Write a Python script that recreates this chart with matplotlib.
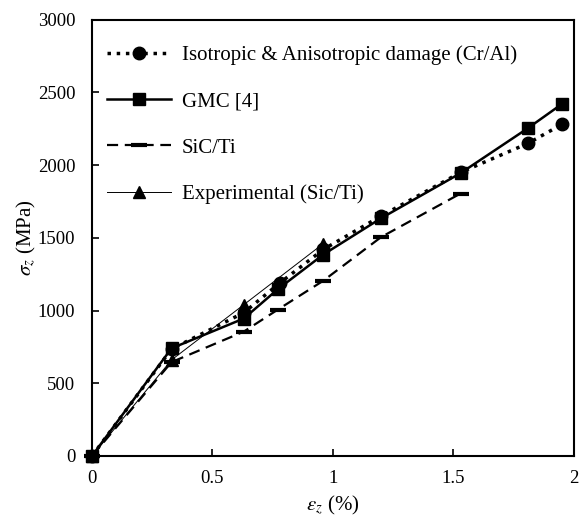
import numpy as np
import matplotlib
matplotlib.use("Agg")
import matplotlib.pyplot as plt

plt.rcParams['font.family'] = ['Liberation Serif', 'DejaVu Serif']
plt.rcParams['mathtext.fontset'] = 'stix'

# strain (%) and stress (MPa)
iso_x = [0, 0.33, 0.63, 0.78, 0.96, 1.2, 1.53, 1.81, 1.95]
iso_y = [0, 735, 985, 1190, 1420, 1650, 1950, 2150, 2280]

gmc_x = [0, 0.33, 0.63, 0.77, 0.96, 1.2, 1.53, 1.81, 1.95]
gmc_y = [0, 740, 945, 1145, 1385, 1635, 1945, 2255, 2420]

sic_x = [0, 0.33, 0.63, 0.77, 0.96, 1.2, 1.53]
sic_y = [0, 645, 855, 1005, 1205, 1505, 1805]

exp_x = [0, 0.33, 0.63, 0.96]
exp_y = [0, 660, 1040, 1460]

fig = plt.figure(figsize=(5.79, 5.21), dpi=100)
ax = fig.add_axes([0.159, 0.125, 0.832, 0.837])

ax.plot(iso_x, iso_y, color='black', ls=':', lw=2.5, marker='o', ms=9,
        clip_on=False, label='Isotropic & Anisotropic damage (Cr/Al)')
ax.plot(gmc_x, gmc_y, color='black', ls='-', lw=1.8, marker='s', ms=9,
        clip_on=False, label='GMC [4]')
ax.plot(sic_x, sic_y, color='black', ls=(0, (5, 3)), lw=1.6, marker='_', ms=11,
        mew=3, clip_on=False, label='SiC/Ti')
ax.plot(exp_x, exp_y, color='black', ls='-', lw=0.7, marker='^', ms=9,
        clip_on=False, label='Experimental (Sic/Ti)')

ax.set_xlim(0, 2)
ax.set_ylim(0, 3000)
ax.set_xticks([0, 0.5, 1, 1.5, 2])
ax.set_xticklabels(['0', '0.5', '1', '1.5', '2'])
ax.set_yticks(np.arange(0, 3001, 500))
ax.tick_params(direction='in', labelsize=13.5, length=5, width=1.2)
ax.tick_params(axis='y', pad=12)
ax.tick_params(axis='x', pad=10)
for s in ax.spines.values():
    s.set_linewidth(1.5)

ax.set_xlabel(r'$\varepsilon_z$ (%)', fontsize=15, labelpad=5)
ax.set_ylabel(r'$\sigma_z$ (MPa)', fontsize=15, labelpad=0)

ax.legend(loc='upper left', frameon=False, fontsize=15, handlelength=3.1,
          handletextpad=0.5, labelspacing=1.28, borderaxespad=0.3,
          bbox_to_anchor=(0.0, 0.975))

fig.savefig('out.png', dpi=100)
